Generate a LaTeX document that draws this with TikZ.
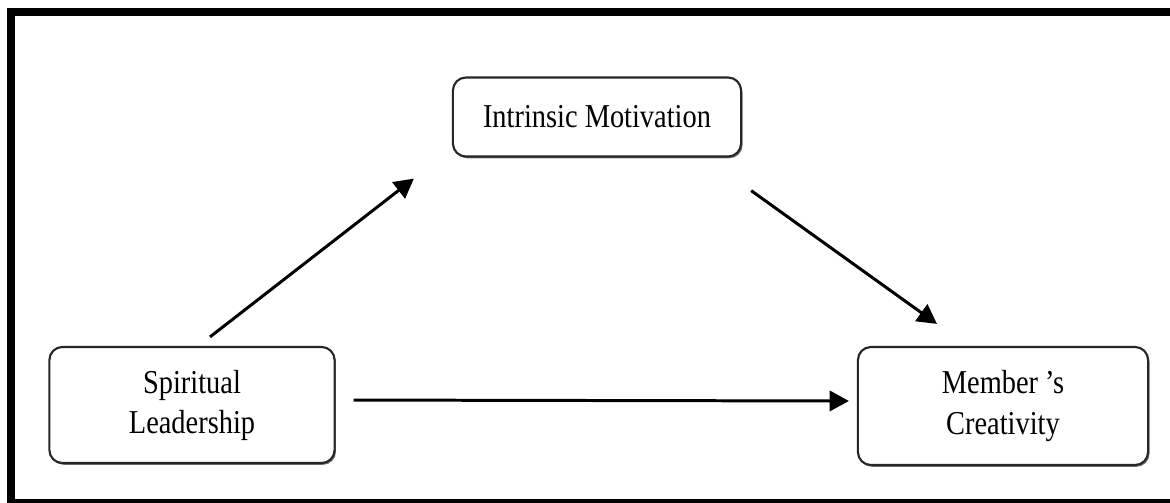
\documentclass[tikz,border=0pt]{standalone}
\usepackage{fontspec}
\setmainfont{Liberation Serif}[FakeStretch=0.85]
\usetikzlibrary{arrows.meta,shadows}

\tikzset{
  factor/.style={draw=black!85, line width=0.6pt, rounded corners=0.13cm,
    fill=white, align=center, inner sep=0pt,
    font=\fontsize{9.5pt}{11.4pt}\selectfont,
    drop shadow={shadow xshift=0.4pt, shadow yshift=-0.5pt, fill=black!55, opacity=1}},
  path/.style={line width=0.85pt, -{Triangle[length=5.5pt,width=5.8pt]}}
}

\begin{document}
\begin{tikzpicture}[x=0.01cm, y=-0.01cm]
  \useasboundingbox (0,0) rectangle (1170,502);
  \draw[line width=0.08cm] (11,12) rectangle (1200,503);

  \node[factor, minimum width=2.88cm, minimum height=0.79cm] (im) at (597,117) {Intrinsic Motivation};
  \node[factor, minimum width=2.85cm, minimum height=1.16cm] (sl) at (192,405) {Spiritual\\Leadership};
  \node[factor, minimum width=2.90cm, minimum height=1.18cm] (mc) at (1003,406) {Member ’s\\Creativity};

  \draw[path] ([xshift=0.18cm, yshift=0.09cm]sl.north) -- ([xshift=-0.38cm, yshift=-0.21cm]im.south west);
  \draw[path] ([xshift=0.09cm, yshift=-0.33cm]im.south east) -- ([xshift=-0.66cm, yshift=0.22cm]mc.north);
  \draw[path, shorten <=0.18cm, shorten >=0.08cm] ([yshift=0.05cm]sl.east) -- ([yshift=0.05cm]mc.west);
\end{tikzpicture}
\end{document}
